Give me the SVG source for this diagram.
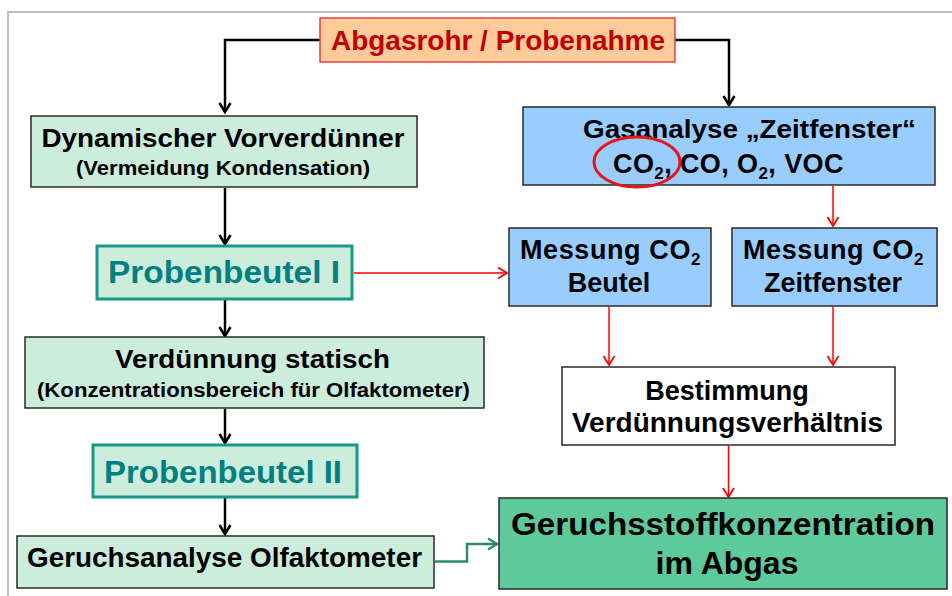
<svg xmlns="http://www.w3.org/2000/svg" width="952" height="596" viewBox="0 0 952 596">
<style>
text{font-family:"Liberation Sans",Arial,sans-serif;font-weight:bold;fill:#000}
.g{fill:#ccecdc;stroke:#2a2a2a;stroke-width:1.5}
.b{fill:#99ccff;stroke:#2a2a2a;stroke-width:1.5}
.pb{fill:#ccecdc;stroke:#16998a;stroke-width:3}
.pt{fill:#008080}
.blk{fill:none;stroke:#000;stroke-width:2.5}
.red{fill:none;stroke:#ff0000;stroke-width:1.5}
.c{text-anchor:middle}
.ls{letter-spacing:0.6px}
</style>
<defs>
<marker id="ab" markerWidth="14" markerHeight="14" refX="0" refY="0" viewBox="-11 -7 13 14" orient="auto" markerUnits="userSpaceOnUse">
<path d="M-9,-5.5 L0,0 L-9,5.5" fill="none" stroke="#000" stroke-width="2.5"/>
</marker>
<marker id="ar" markerWidth="14" markerHeight="14" refX="0" refY="0" viewBox="-11 -7 13 14" orient="auto" markerUnits="userSpaceOnUse">
<path d="M-9,-5.5 L0,0 L-9,5.5" fill="none" stroke="#ff0000" stroke-width="1.8"/>
</marker>
<marker id="ag" markerWidth="14" markerHeight="14" refX="0" refY="0" viewBox="-11 -7 13 14" orient="auto" markerUnits="userSpaceOnUse">
<path d="M-9,-5.5 L0,0 L-9,5.5" fill="none" stroke="#2e8b66" stroke-width="2.5"/>
</marker>
</defs>
<rect width="952" height="596" fill="#fff"/>
<path d="M8,596 V12 H952" fill="none" stroke="#bfbfbf" stroke-width="2"/>

<g id="connectors">
<path class="blk" stroke-width="3" d="M320,40 H225 V112" marker-end="url(#ab)"/>
<path class="blk" stroke-width="3" d="M675,40 H729 V105" marker-end="url(#ab)"/>
<path class="blk" d="M225,188 V244" marker-end="url(#ab)"/>
<path class="blk" d="M225,300 V336" marker-end="url(#ab)"/>
<path class="blk" d="M225,409 V443" marker-end="url(#ab)"/>
<path class="blk" d="M225,498 V534" marker-end="url(#ab)"/>
<path class="red" stroke-width="2.5" d="M354,273 H507" marker-end="url(#ar)"/>
<path class="red" d="M833,186 V226" marker-end="url(#ar)"/>
<path class="red" d="M609,307 V365" marker-end="url(#ar)"/>
<path class="red" d="M833,307 V365" marker-end="url(#ar)"/>
<path class="red" d="M728.5,446 V497" marker-end="url(#ar)"/>
<path d="M435,561.5 H467 V544 H497" fill="none" stroke="#2e8b66" stroke-width="2.5" marker-end="url(#ag)"/>
</g>

<g id="probenahme">
<rect x="320" y="18" width="355" height="44" fill="#ffcc99" stroke="#e04040" stroke-width="1.5"/>
<text x="498" y="49.5" class="c" font-size="27" style="fill:#c00000" textLength="334" lengthAdjust="spacingAndGlyphs">Abgasrohr / Probenahme</text>
</g>

<g id="vorverduenner">
<rect class="g" x="31" y="116" width="386" height="71"/>
<text x="41.5" y="146.5" font-size="26" textLength="363" lengthAdjust="spacingAndGlyphs">Dynamischer Vorverdünner</text>
<text x="76" y="175" font-size="20" textLength="294" lengthAdjust="spacingAndGlyphs">(Vermeidung  Kondensation)</text>
</g>

<g id="probenbeutel1">
<rect class="pb" x="97" y="246" width="255" height="53"/>
<text x="108" y="283" font-size="31" class="pt" textLength="232" lengthAdjust="spacingAndGlyphs">Probenbeutel  I</text>
</g>

<g id="verduennung">
<rect class="g" x="25" y="337" width="459" height="71"/>
<text x="115" y="368" font-size="26" textLength="275" lengthAdjust="spacingAndGlyphs">Verdünnung statisch</text>
<text x="37" y="396.5" font-size="20" textLength="433" lengthAdjust="spacingAndGlyphs">(Konzentrationsbereich  für  Olfaktometer)</text>
</g>

<g id="probenbeutel2">
<rect class="pb" x="93" y="445" width="264" height="52"/>
<text x="104" y="482.5" font-size="32" class="pt" textLength="238" lengthAdjust="spacingAndGlyphs">Probenbeutel  II</text>
</g>

<g id="geruchsanalyse">
<rect class="g" x="17" y="536" width="417" height="52"/>
<text x="27" y="566.5" font-size="27" textLength="395" lengthAdjust="spacingAndGlyphs">Geruchsanalyse Olfaktometer</text>
</g>

<g id="gasanalyse">
<rect class="b" x="523" y="107" width="412" height="78"/>
<text x="583" y="138" font-size="26" textLength="333" lengthAdjust="spacingAndGlyphs">Gasanalyse „Zeitfenster“</text>
<text x="613" y="172.5" font-size="27" style="letter-spacing:0.4px">CO<tspan font-size="17" dy="6">2</tspan><tspan dy="-6">, CO, O</tspan><tspan font-size="17" dy="6">2</tspan><tspan dy="-6">, VOC</tspan></text>
<ellipse cx="637" cy="162" rx="43" ry="25" fill="none" stroke="#e8141a" stroke-width="3"/>
</g>

<g id="messung-beutel">
<rect class="b" x="509" y="228" width="202" height="78"/>
<text x="520" y="259" font-size="27" class="ls">Messung CO<tspan font-size="17" dy="6">2</tspan></text>
<text x="609" y="292" class="c" font-size="27">Beutel</text>
</g>

<g id="messung-zeitfenster">
<rect class="b" x="732" y="228" width="205" height="78"/>
<text x="743" y="259" font-size="27" class="ls">Messung CO<tspan font-size="17" dy="6">2</tspan></text>
<text x="833" y="292" class="c" font-size="27">Zeitfenster</text>
</g>

<g id="bestimmung">
<rect x="562" y="367" width="333" height="78" fill="#fff" stroke="#2a2a2a" stroke-width="1.5"/>
<text x="727" y="400" class="c" font-size="27">Bestimmung</text>
<text x="572" y="431.5" font-size="27" textLength="311" lengthAdjust="spacingAndGlyphs">Verdünnungsverhältnis</text>
</g>

<g id="geruchsstoffkonzentration">
<rect x="499" y="498" width="448" height="91" fill="#5ec99b" stroke="#2a2a2a" stroke-width="1.5"/>
<text x="511" y="535" font-size="32" textLength="424" lengthAdjust="spacingAndGlyphs">Geruchsstoffkonzentration</text>
<text x="727" y="574" class="c" font-size="32">im Abgas</text>
</g>
</svg>
